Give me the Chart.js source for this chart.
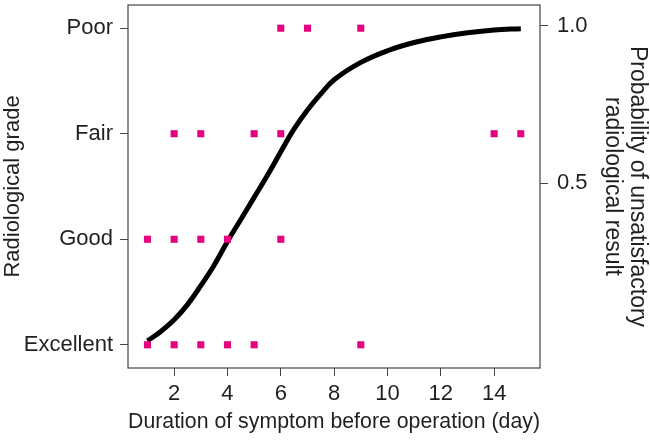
<!DOCTYPE html>
<html>
<head>
<meta charset="utf-8">
<script src="https://cdn.jsdelivr.net/npm/chart.js@4"></script>
<style>
  body { margin: 0; background: #fff; }
  #wrap { width: 650px; height: 442px; }
</style>
</head>
<body>
<div id="wrap"><canvas id="myChart" width="650" height="442"></canvas></div>
<script>
// grades on the left axis, bottom to top
const grades = ['Excellent', 'Good', 'Fair', 'Poor'];
const dayTicks = [2, 4, 6, 8, 10, 12, 14];
const probTicks = [0.5, 1.0];

// individual cases (day, grade)
const caseDays   = [1, 2, 3, 4, 5, 9,   1, 2, 3, 4, 6,   2, 3, 5, 6, 14, 15,   6, 7, 9];
const caseGrades = ['Excellent', 'Excellent', 'Excellent', 'Excellent', 'Excellent', 'Excellent',
                    'Good', 'Good', 'Good', 'Good', 'Good',
                    'Fair', 'Fair', 'Fair', 'Fair', 'Fair', 'Fair',
                    'Poor', 'Poor', 'Poor'];

// fitted probability curve
const curveDays = [1, 1.5, 2, 2.5, 3, 3.5, 4, 4.5, 5, 5.5, 6, 6.5, 7, 7.5, 8, 9, 10, 11, 12, 13, 14, 15];
const curveProb = [0.0, 0.03, 0.067, 0.115, 0.175, 0.24, 0.315, 0.385, 0.455, 0.525, 0.60, 0.672, 0.732, 0.783, 0.828, 0.883, 0.92, 0.946, 0.964, 0.977, 0.986, 0.99];

const textColor = '#231f20';
const lineColor = '#444';
const font = { family: 'Liberation Sans, Arial, sans-serif', size: 22 };

const frame = {
    id: 'frame',
    afterDraw(chart) {
        const a = chart.chartArea;
        const ctx = chart.ctx;
        ctx.save();
        ctx.strokeStyle = lineColor;
        ctx.lineWidth = 1.2;
        ctx.strokeRect(a.left, a.top, a.right - a.left, a.bottom - a.top);
        ctx.restore();
    }
};

function noPad(s) {
    s.paddingTop = 0;
    s.paddingBottom = 0;
    s.paddingLeft = 0;
    s.paddingRight = 0;
}

new Chart(document.getElementById('myChart'), {
    type: 'scatter',
    data: {
        datasets: [
            {
                label: 'Cases',
                data: caseDays.map((d, i) => ({ x: d, y: grades.indexOf(caseGrades[i]) })),
                yAxisID: 'y',
                pointStyle: 'rect',
                pointRadius: 5,
                pointBorderWidth: 0,
                backgroundColor: '#e5007d',
                borderColor: '#e5007d',
                order: 0
            },
            {
                label: 'Probability',
                data: curveDays.map((d, i) => ({ x: d, y: curveProb[i] })),
                yAxisID: 'y1',
                showLine: true,
                borderColor: '#000',
                borderWidth: 5,
                pointRadius: 0,
                tension: 0.4,
                order: 1
            }
        ]
    },
    options: {
        responsive: false,
        animation: false,
        layout: { padding: { top: 2, left: 0, right: 0, bottom: 0 } },
        plugins: {
            legend: { display: false },
            tooltip: { enabled: false }
        },
        scales: {
            x: {
                type: 'linear',
                min: 0.27,
                max: 15.72,
                afterBuildTicks: (s) => { s.ticks = dayTicks.map(v => ({ value: v })); },
                afterFit: (s) => { s.height = 74; noPad(s); },
                grid: { drawOnChartArea: false, tickLength: 8, color: lineColor },
                border: { display: false },
                ticks: { color: textColor, font: font, padding: 5, maxRotation: 0 },
                title: {
                    display: true,
                    text: 'Duration of symptom before operation (day)',
                    color: textColor,
                    font: Object.assign({ lineHeight: 1.2 }, font),
                    padding: { top: 0, bottom: 7 }
                }
            },
            y: {
                type: 'linear',
                position: 'left',
                min: -0.22,
                max: 3.22,
                afterBuildTicks: (s) => { s.ticks = grades.map((g, i) => ({ value: i })); },
                afterFit: (s) => { s.width = 128; noPad(s); },
                grid: { drawOnChartArea: false, tickLength: 8, color: lineColor },
                border: { display: false },
                ticks: {
                    color: textColor,
                    font: font,
                    padding: 7,
                    callback: (v) => grades[v]
                },
                title: {
                    display: true,
                    text: 'Radiological grade',
                    color: textColor,
                    font: Object.assign({ lineHeight: 1.2 }, font),
                    padding: { top: 0, bottom: 0 }
                }
            },
            y1: {
                type: 'linear',
                position: 'right',
                min: -0.086,
                max: 1.065,
                afterBuildTicks: (s) => { s.ticks = probTicks.map(v => ({ value: v })); },
                afterFit: (s) => { s.width = 110; noPad(s); },
                grid: { drawOnChartArea: false, tickLength: 8, color: lineColor },
                border: { display: false },
                ticks: {
                    color: textColor,
                    font: font,
                    padding: 9,
                    callback: (v) => v.toFixed(1)
                },
                title: {
                    display: true,
                    text: ['Probability of unsatisfactory', 'radiological result'],
                    color: textColor,
                    font: { family: font.family, size: 23, lineHeight: 25 / 23 },
                    padding: { top: 0, bottom: 0 }
                }
            }
        }
    },
    plugins: [frame]
});
</script>
</body>
</html>
